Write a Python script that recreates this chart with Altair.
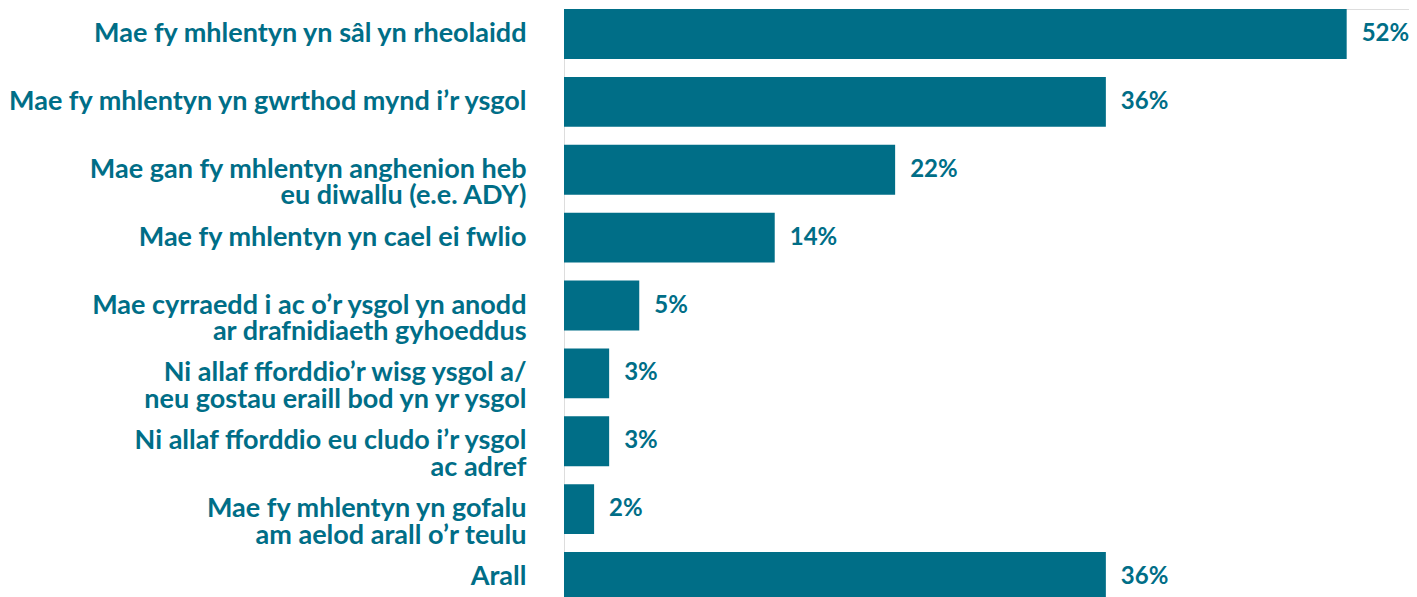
import altair as alt
import pandas as pd

TEAL = "#006E87"

categories = [
    "Mae fy mhlentyn yn sâl yn rheolaidd",
    "Mae fy mhlentyn yn gwrthod mynd i’r ysgol",
    "Mae gan fy mhlentyn anghenion heb|eu diwallu (e.e. ADY)",
    "Mae fy mhlentyn yn cael ei fwlio",
    "Mae cyrraedd i ac o’r ysgol yn anodd|ar drafnidiaeth gyhoeddus",
    "Ni allaf fforddio’r wisg ysgol a/|neu gostau eraill bod yn yr ysgol",
    "Ni allaf fforddio eu cludo i’r ysgol|ac adref",
    "Mae fy mhlentyn yn gofalu|am aelod arall o’r teulu",
    "Arall\u00a0",
]
values = [52, 36, 22, 14, 5, 3, 3, 2, 36]
value_labels = ["52%", "36%", "22%", "14%", "5%", "3%", "3%", "2%", "36%"]

df = pd.DataFrame({"category": categories, "value": values, "label": value_labels})

y_enc = alt.Y(
    "category:N",
    sort=categories,
    scale=alt.Scale(paddingInner=0.265, paddingOuter=0),
    axis=alt.Axis(
        title=None,
        labelFont="Lato",
        labelFontWeight="bold",
        labelFontSize=27.0,
        labelColor=TEAL,
        labelPadding=38,
        labelLimit=0,
        labelLineHeight=26.5,
        labelExpr="split(datum.label, '|')",
        ticks=False,
        domain=False,
        grid=False,
    ),
)
x_enc = alt.X("value:Q", scale=alt.Scale(domain=[0, 56.14], nice=False), axis=None)

bars = alt.Chart(df).mark_bar(color=TEAL).encode(x=x_enc, y=y_enc)
texts = alt.Chart(df).mark_text(
    align="left", baseline="middle", dx=15,
    font="Lato", fontWeight="bold", fontSize=24, color=TEAL
).encode(x=x_enc, y=y_enc, text="label:N")

chart = (
    alt.layer(bars, texts)
    .properties(
        width=845,
        height=593,
        autosize=alt.AutoSizeParams(type="none"),
        padding={"top": 1, "left": 556, "right": 0, "bottom": 0},
    )
    .configure_view(stroke=None)
    .configure(background="white")
)

chart.save("out.html", embed_options={"renderer": "svg", "actions": False})
